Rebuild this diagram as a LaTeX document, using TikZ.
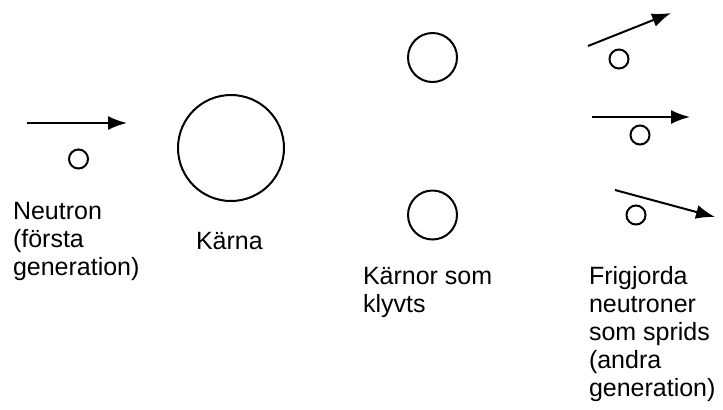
\documentclass[tikz,border=0pt]{standalone}
\usepackage{fontspec}
\setmainfont{Liberation Sans}
\usepackage{tikz}
\usetikzlibrary{arrows.meta,positioning}

\begin{document}
\begin{tikzpicture}[x=0.5pt,y=-0.5pt,>={Latex[length=9.5pt,width=7pt]},line width=1pt,
  nucleus/.style={draw,circle,inner sep=0pt},
  neutron/.style={draw,circle,inner sep=0pt,minimum size=9.5pt},
  txt/.style={anchor=base west,align=left,inner sep=0pt,font=\fontsize{12.5}{14}\selectfont}]
  \useasboundingbox (0,0) rectangle (723,409);
  % first generation
  \coordinate (in1) at (27,123);
  \coordinate (in2) at (127,123);
  \draw[->] (in1) -- (in2);
  \node[neutron] (n0) at (78.5,159) {};
  \node[nucleus,minimum size=53pt] (core) at (231,148) {};
  \node[txt] (tn0) at (12,275) {Neutron\\(första\\generation)};
  \node[txt] (tcore) at (195,249) {Kärna};
  % split nuclei
  \node[nucleus,minimum size=24.5pt] (splitA) at (432.5,57.5) {};
  \node[nucleus,minimum size=24.5pt] (splitB) at (432.5,215) {};
  \node[txt] (tsplit) at (362,312) {Kärnor som\\klyvts};
  % second generation
  \coordinate (a1) at (588,46);  \coordinate (b1) at (671,13);
  \coordinate (a2) at (592,117); \coordinate (b2) at (690,117);
  \coordinate (a3) at (615,190); \coordinate (b3) at (715,217);
  \foreach \i in {1,2,3}
    \draw[->] (a\i) -- (b\i);
  \node[neutron] (n1) at (619,59) {};
  \node[neutron] (n2) at (640,135) {};
  \node[neutron] (n3) at (636,215) {};
  \node[txt] (tfree) at (588,396) {Frigjorda\\neutroner\\som sprids\\(andra\\generation)};
\end{tikzpicture}
\end{document}
